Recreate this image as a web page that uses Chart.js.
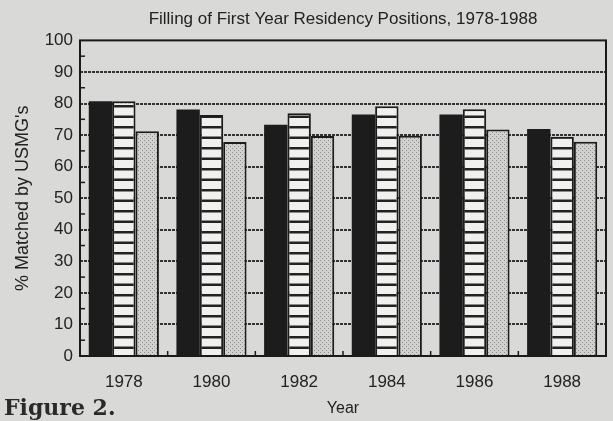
<!DOCTYPE html>
<html>
<head>
<meta charset="utf-8">
<script src="https://cdn.jsdelivr.net/npm/chart.js@4.4.0/dist/chart.umd.min.js"></script>
<style>
  html, body { margin: 0; padding: 0; background: #d9d9d7; }
  #wrap { width: 613px; height: 421px; }
</style>
</head>
<body>
<div id="wrap"><canvas id="grafica" width="613" height="421"></canvas></div>
<script>
// datos
const years = ['1978', '1980', '1982', '1984', '1986', '1988'];
const serieNegra = [80.7, 78.1, 73.3, 76.5, 76.5, 71.9];
const serieRayas = [80.7, 76.4, 76.9, 79.1, 78.2, 69.5];
const seriePuntos = [71.2, 67.8, 69.7, 69.8, 71.8, 67.9];
const yTicks = [0, 10, 20, 30, 40, 50, 60, 70, 80, 90, 100];

const FONT = "'Liberation Sans', Arial, sans-serif";

// patrones de relleno
function patronRayas() {
    const c = document.createElement('canvas');
    c.width = 4; c.height = 21;
    const g = c.getContext('2d');
    g.fillStyle = '#f0f0ee';
    g.fillRect(0, 0, 4, 21);
    g.fillStyle = '#222';
    g.fillRect(0, 0, 4, 2.5);
    g.fillRect(0, 10.5, 4, 2.5);
    return g.createPattern(c, 'repeat');
}

function patronPuntos() {
    const c = document.createElement('canvas');
    c.width = 4; c.height = 4;
    const g = c.getContext('2d');
    g.fillStyle = '#d2d2d0';
    g.fillRect(0, 0, 4, 4);
    g.fillStyle = '#8a8a88';
    g.fillRect(0, 0, 1, 1);
    g.fillRect(2, 2, 1, 1);
    return g.createPattern(c, 'repeat');
}

// marco, marcas interiores y "Figure 2."
const extras = {
    id: 'extras',
    afterDraw(chart) {
        const { ctx, chartArea: a, scales } = chart;
        ctx.save();
        ctx.strokeStyle = '#1a1a1a';
        ctx.lineWidth = 2;
        ctx.strokeRect(a.left, a.top, a.right - a.left, a.bottom - a.top);

        ctx.lineWidth = 1.5;
        for (let v = 5; v < 100; v += 10) {
            const y = scales.y.getPixelForValue(v);
            ctx.beginPath();
            ctx.moveTo(a.left, y);
            ctx.lineTo(a.left + 5, y);
            ctx.stroke();
        }
        const paso = (a.right - a.left) / years.length;
        for (let i = 1; i < years.length; i++) {
            const x = a.left + paso * i;
            ctx.beginPath();
            ctx.moveTo(x, a.bottom);
            ctx.lineTo(x, a.bottom - 5);
            ctx.stroke();
        }

        ctx.fillStyle = '#2a2a2a';
        ctx.font = "bold 22px 'DejaVu Serif', 'Liberation Serif', serif";
        ctx.textBaseline = 'alphabetic';
        ctx.fillText('Figure 2.', 4, 415);
        ctx.restore();
    }
};

new Chart(document.getElementById('grafica').getContext('2d'), {
    type: 'bar',
    data: {
        labels: years,
        datasets: [
            { data: serieNegra, backgroundColor: '#1c1c1c', borderColor: '#1c1c1c', borderWidth: 0 },
            { data: serieRayas, backgroundColor: patronRayas(), borderColor: '#1c1c1c', borderWidth: 2 },
            { data: seriePuntos, backgroundColor: patronPuntos(), borderColor: '#1c1c1c', borderWidth: 2 }
        ]
    },
    options: {
        responsive: false,
        animation: false,
        devicePixelRatio: 1,
        layout: { padding: { left: 0, right: 7, top: 0, bottom: 0 } },
        datasets: { bar: { categoryPercentage: 0.8, barPercentage: 1.0 } },
        plugins: {
            legend: { display: false },
            tooltip: { enabled: false },
            title: {
                display: true,
                fullSize: false,
                text: 'Filling of First Year Residency Positions, 1978-1988',
                color: '#222',
                font: { family: FONT, size: 17, weight: 'normal' },
                padding: { top: 9, bottom: 11 }
            }
        },
        scales: {
            x: {
                grid: { display: false },
                border: { display: false },
                ticks: { color: '#222', font: { family: FONT, size: 17 }, padding: 8 },
                title: {
                    display: true, text: 'Year', color: '#222',
                    font: { family: FONT, size: 16 }, padding: { top: 0, bottom: 3 }
                },
                afterFit(scale) { scale.height = 65; }
            },
            y: {
                min: 0, max: 100,
                afterBuildTicks(scale) { scale.ticks = yTicks.map(v => ({ value: v })); },
                grid: {
                    color: ctx => (ctx.tick.value === 0 || ctx.tick.value === 100) ? 'rgba(0,0,0,0)' : '#333',
                    lineWidth: 2,
                    drawTicks: false
                },
                border: { display: false, dash: [3, 1] },
                ticks: { color: '#222', font: { family: FONT, size: 17 }, padding: 7 },
                title: {
                    display: true, text: "% Matched by USMG's", color: '#222',
                    font: { family: FONT, size: 18 }, padding: { top: 12, bottom: 0 }
                },
                afterFit(scale) { scale.width = 80; }
            }
        }
    },
    plugins: [extras]
});
</script>
</body>
</html>
